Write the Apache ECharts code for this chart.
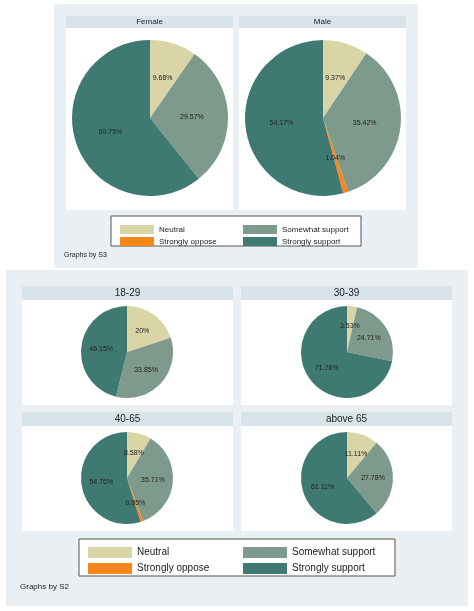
<!DOCTYPE html><html><head><meta charset="utf-8">
<script src="https://cdn.jsdelivr.net/npm/echarts@6/dist/echarts.min.js"></script>
<style>html,body{margin:0;background:#fff}#c{width:474px;height:611px}</style></head><body><div id="c"></div>
<script>
const categories=['Neutral','Somewhat support','Strongly oppose','Strongly support'];
const genderLabels=['Female','Male'];
const genderValues=[[9.68,29.57,0,60.75],[9.37,35.42,1.04,54.17]];
const ageLabels=['18-29','30-39','40-65','above 65'];
const ageValues=[[20,33.85,0,46.15],[3.53,24.71,0,71.76],[8.58,35.71,0.95,54.76],[11.11,27.78,0,61.11]];
const colors=['#dad5a6','#7e9a8d','#f7861b','#3f7a72'];
const ch=echarts.init(document.getElementById('c'));
const g=[];const series=[];
const rect=(x,y,w,h,fill,stroke)=>g.push({type:'rect',shape:{x,y,width:w,height:h},style:{fill,stroke:stroke||null,lineWidth:1},silent:true});
const text=(x,y,t,fs,align)=>g.push({type:'text',x,y,style:{text:t,font:fs+'px Arial, Liberation Sans',fill:'#222',align:align||'left',verticalAlign:'middle'},silent:true});
// top panel
rect(54,4,364,264,'#e9eff2');
const tp=[[66,233],[239,406]];
tp.forEach((p,i)=>{rect(p[0],16,p[1]-p[0],12,'#d9e4ea');rect(p[0],28,p[1]-p[0],182,'#fff');text((p[0]+p[1])/2,22,genderLabels[i],8,'center');});
rect(111,216,250,30,'#fff','#555');
text(64,255,'Graphs by S3',7);
// bottom panel
rect(6,270,462,336,'#e9eff2');
const bp=[[22,233,286],[241,452,286],[22,233,412],[241,452,412]];
bp.forEach((p,i)=>{rect(p[0],p[2],p[1]-p[0],14,'#d9e4ea');rect(p[0],p[2]+14,p[1]-p[0],105,'#fff');text((p[0]+p[1])/2,p[2]+7,ageLabels[i],10,'center');});
rect(79,539,316,37,'#fff','#555');
text(20,587,'Graphs by S2',8);
function mk(vals,cx,cy,r,fs){
  series.push({type:'pie',center:[cx,cy],radius:[0,r],startAngle:90,clockwise:true,silent:true,z:5,
    label:{show:true,position:'inside',formatter:p=>p.value?p.value+'%':'',fontSize:fs,color:'#222',fontFamily:'Arial'},
    labelLine:{show:false},itemStyle:{borderWidth:0},
    data:categories.map((c,k)=>({name:c,value:vals[k],itemStyle:{color:colors[k]}})).filter(d=>d.value>0||true)});
}
mk(genderValues[0],150,118,78,7);mk(genderValues[1],323,118,78,7);
mk(ageValues[0],127,352,46,7);mk(ageValues[1],347,352,46,7);
mk(ageValues[2],127,478,46,7);mk(ageValues[3],347,478,46,7);
const lg=(left,top,data,w,h,fs,gap)=>({left,top,orient:'vertical',data,itemWidth:w,itemHeight:h,itemGap:gap,icon:'rect',textStyle:{fontSize:fs,color:'#222',fontFamily:'Arial'},selectedMode:false});
ch.setOption({animation:false,color:colors,graphic:g,series,
  legend:[lg(115,220,['Neutral','Strongly oppose'],34,9,8,3),lg(238,220,['Somewhat support','Strongly support'],34,9,8,3),
          lg(83,542,['Neutral','Strongly oppose'],44,11,10,5),lg(238,542,['Somewhat support','Strongly support'],44,11,10,5)]});
</script></body></html>
